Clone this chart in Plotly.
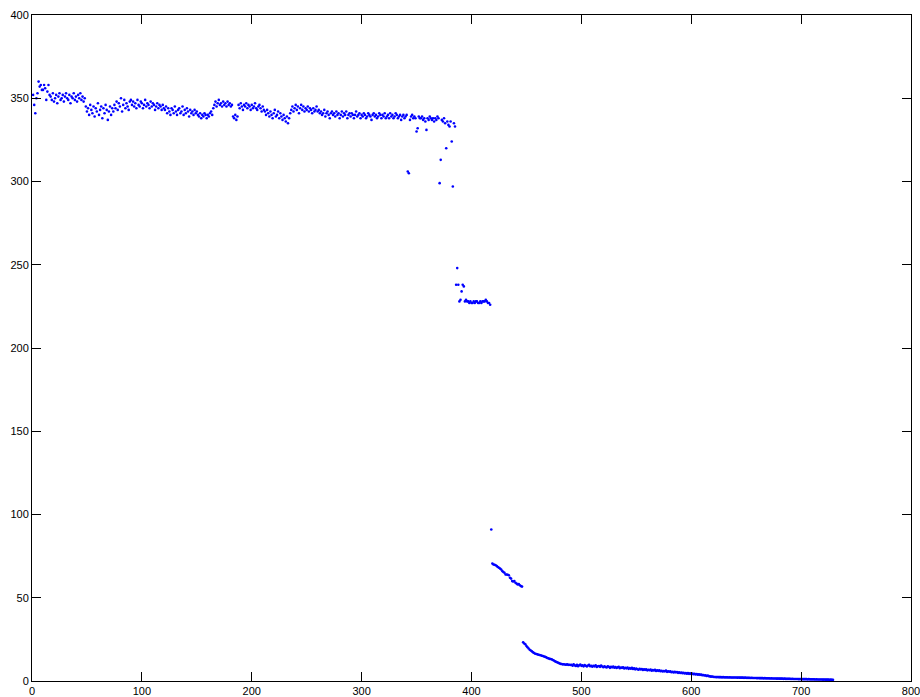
import plotly.graph_objects as go

# Measured series, stored in consecutive runs; each run starts at the given sample index.
plateau_start = 1
plateau_vals = [
    352, 346, 341, 350, 353, 360, 357, 358, 355, 355, 358, 356, 349, 354, 358, 352,
    351, 349, 353, 348, 350, 352, 347, 351, 353, 349, 350, 352, 348, 351, 353, 350,
    349, 352, 347, 351, 350, 353, 349, 351, 348, 352, 350, 353, 349, 351, 348, 350,
    345, 342, 344, 340, 346, 343, 341, 345, 339, 344, 342, 347, 340, 343, 345, 338,
    344, 341, 346, 343, 337, 342, 345, 340, 344, 342,
    346, 344, 348, 343, 347, 345, 350, 342, 346, 349, 344, 347, 345, 343, 348,
    349, 346, 348, 345, 347, 344, 349, 346, 345, 348, 347, 344, 346, 349, 345, 347,
    346, 344, 348, 345, 347, 346, 343, 345, 347, 344, 346, 345, 343, 346, 344,
    343, 345, 341, 344, 342, 340, 344, 343, 341, 345, 342, 340, 343, 344, 341, 342,
    345, 340, 343, 341, 344, 342, 339, 343, 341, 342, 340, 343, 341, 342,
    340, 339, 341, 338, 340, 339, 341, 340, 338, 340, 339, 341, 342, 340,
    344, 346, 348, 345, 347, 349, 346, 347, 345, 348, 346, 347, 345, 348, 346, 347,
    345, 346,
    339, 338, 340, 337, 339,
    346, 344, 347, 345, 343, 346, 345, 347, 344, 346, 345, 343, 346, 344, 345, 347,
    344, 343, 345, 346, 344, 342, 345, 343,
    342, 340, 343, 341, 339, 342, 340, 338, 341, 343, 339, 340, 342, 338, 341, 339,
    337, 340, 338, 336, 339, 335, 338, 341,
    343, 345, 342, 344, 346, 343, 345, 341, 344, 346, 343, 345, 342, 344, 343, 345,
    342, 344, 343, 341, 344, 342, 343, 345, 342, 343, 341,
    342, 340, 341, 343, 339, 341, 342, 340, 338, 341,
    342, 340, 341, 339, 342, 340, 341, 338, 340, 342,
    339, 341, 340, 342, 338, 340, 341, 339, 341, 340,
    338, 340, 342, 339, 340, 341, 338, 340, 339, 341,
    340, 338, 339, 341, 340, 339, 337, 340, 341, 339,
    340, 338, 339, 341, 340, 338, 340, 339, 341, 338,
    339, 340, 338, 341, 339, 340, 338, 339, 341, 340,
    338, 339, 340, 337, 339, 340, 338, 339, 340, 306,
    305, 337, 339, 340, 338, 339, 338, 330, 332, 339,
    338,
    338, 339, 337, 338, 336, 331, 338, 337, 339, 338,
    337, 338, 336, 338, 337, 339, 338, 299, 313, 337,
    336, 338, 335, 320, 336, 334, 333, 336, 324, 297,
    335, 333,
]

middle_start = 386
middle_vals = [
    238, 248, 238, 228, 229, 234, 238, 237, 228, 229, 228,
    228, 227, 228, 227, 227, 228, 227, 228, 228, 227, 227, 228, 227, 228, 228, 228,
    229, 228, 227, 227, 226,
]

lower_start = 418
lower_vals = [
    91,
    70.5, 70, 69.8, 69.5, 69, 68.5, 68, 67.5, 67, 66, 65.5, 65, 64, 64, 63.8, 63.5,
    62, 61.5, 60, 59.8, 60, 59, 58.5, 58, 58.3, 57.5, 57, 56.7,
]

tail_start = 447
tail_vals = [
    23.2, 22.5, 22, 21, 20.3, 19.5, 18.8, 18.3, 17.8, 17.2,
    16.8, 16.4, 16.2, 16.0, 15.8, 15.6, 15.5, 15.2, 15.0, 14.7,
    14.5, 14.2, 13.8, 13.6, 13.3, 13.2, 13.0, 12.6, 12.3, 11.8,
    11.5, 11.2, 10.9, 10.6, 10.3, 10.2, 10.0, 10.1, 9.9, 9.8,
    10.0, 9.7, 9.8, 9.6,
    9.8, 9.2, 10.1, 9.4, 9.0, 9.7, 8.9, 9.5, 9.9, 9.1,
    9.4, 8.8, 9.6, 9.2, 8.7, 9.3, 9.8, 8.9, 9.1, 8.6,
    9.2, 8.8, 9.5, 8.4, 8.9, 9.0, 8.5, 9.3, 8.7, 8.3,
    8.9, 8.4, 8.1, 8.8, 8.6, 7.9, 8.5, 8.2, 8.7, 8.0,
    8.4, 7.8, 8.2, 8.6, 7.7, 8.1, 7.9, 8.3, 7.5, 8.0,
    7.6, 8.1, 7.3, 7.8, 7.4, 7.9, 7.2, 7.6, 7.0, 7.5,
    7.1, 6.8, 7.4, 6.9, 7.2, 6.6, 7.0, 6.7, 7.1, 6.4,
    6.8, 6.5, 6.9, 6.2, 6.6, 6.3, 6.7, 6.0, 6.4, 6.1,
    6.5, 5.9, 6.2, 5.7, 6.0, 5.8, 6.3, 5.5, 5.9, 5.6,
    5.8, 5.3, 5.6, 5.1, 5.5, 5.2, 5.4, 4.9, 5.3, 4.8,
    5.1, 4.7, 5.0, 4.5, 4.8, 4.4, 4.7, 4.3, 4.6, 4.2,
    4.4, 4.1, 4.3, 3.9, 4.2, 3.8, 4.0, 3.7, 3.9, 3.5,
    3.6, 3.3, 3.4, 3.0, 3.2, 2.9, 2.8, 2.6, 2.7, 2.5,
    2.4, 2.4, 2.3, 2.4, 2.3, 2.3, 2.3, 2.2, 2.3, 2.2,
    2.2, 2.2, 2.2, 2.1, 2.2, 2.1, 2.1, 2.1, 2.1, 2.1,
    2.1, 2.0, 2.1, 2.0, 2.0, 2.0, 2.0, 1.9, 2.0, 1.9,
    1.9, 1.9, 1.9, 1.8, 1.9, 1.8, 1.8, 1.8, 1.8, 1.7,
    1.8, 1.7, 1.7, 1.7, 1.7, 1.6, 1.7, 1.6, 1.6, 1.6,
    1.6, 1.5, 1.6, 1.5, 1.5, 1.5, 1.5, 1.4, 1.5, 1.4,
    1.4, 1.4, 1.4, 1.3, 1.4, 1.3, 1.3, 1.3, 1.3, 1.3,
    1.2, 1.3, 1.2, 1.2, 1.2, 1.2, 1.2, 1.1, 1.2, 1.1,
    1.1, 1.1, 1.1, 1.1, 1.1, 1.0, 1.1, 1.0, 1.0, 1.0,
    1.0, 1.0, 0.9, 1.0, 0.9, 0.9, 0.9, 0.9, 0.9, 0.8,
    0.9, 0.8, 0.8, 0.8, 0.8, 0.7, 0.8, 0.7, 0.7,
]

x_ticks = [0, 100, 200, 300, 400, 500, 600, 700, 800]
y_ticks = [0, 50, 100, 150, 200, 250, 300, 350, 400]

runs = [
    (plateau_start, plateau_vals),
    (middle_start, middle_vals),
    (lower_start, lower_vals),
    (tail_start, tail_vals),
]
xs, ys = [], []
for start, vals in runs:
    xs.extend(range(start, start + len(vals)))
    ys.extend(vals)

fig = go.Figure(
    go.Scatter(
        x=xs,
        y=ys,
        mode="markers",
        marker=dict(color="#0000FF", size=2.6, line=dict(width=0)),
        hoverinfo="x+y",
    )
)

axis_common = dict(
    showgrid=False,
    zeroline=False,
    showline=True,
    linecolor="black",
    linewidth=1,
    mirror="allticks",
    ticks="inside",
    ticklen=9,
    tickwidth=1,
    tickcolor="black",
    automargin=False,
    ticklabeloverflow="allow",
    tickfont=dict(family="Liberation Sans, Arial, sans-serif", size=11, color="black"),
)

fig.update_xaxes(range=[0, 800], tickvals=x_ticks, ticktext=[str(v) for v in x_ticks],
                 ticklabelstandoff=0, **axis_common)
fig.update_yaxes(range=[0, 400], tickvals=y_ticks, ticktext=[str(v) for v in y_ticks],
                 **axis_common)

fig.update_layout(
    width=920,
    height=697,
    margin=dict(l=32, r=9, t=15, b=16, autoexpand=False),
    paper_bgcolor="white",
    plot_bgcolor="white",
    showlegend=False,
)

fig.write_html("out.html")
